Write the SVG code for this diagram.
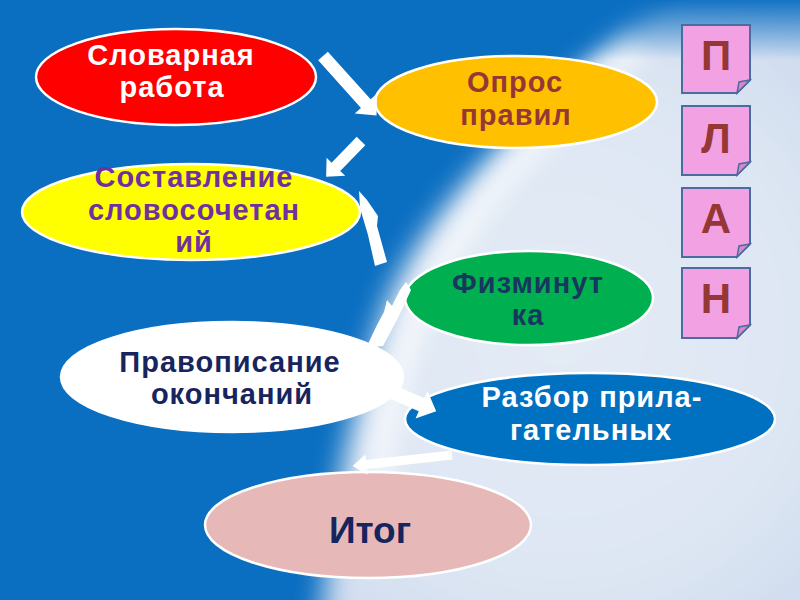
<svg xmlns="http://www.w3.org/2000/svg" width="800" height="600" viewBox="0 0 800 600">
  <defs>
    <radialGradient id="light" gradientUnits="userSpaceOnUse" cx="560" cy="330" r="420">
      <stop offset="0" stop-color="#E4EBF5"/>
      <stop offset="0.6" stop-color="#DDE6F3"/>
      <stop offset="1" stop-color="#C9D8EE"/>
    </radialGradient>
    <linearGradient id="topfade" x1="0" y1="0" x2="0" y2="1">
      <stop offset="0" stop-color="#0A6EC1" stop-opacity="0.95"/>
      <stop offset="1" stop-color="#0A6EC1" stop-opacity="0"/>
    </linearGradient>
    <filter id="soft" x="-0.2" y="-0.2" width="1.4" height="1.4">
      <feGaussianBlur stdDeviation="14"/>
    </filter>
    <filter id="soft2" x="-0.2" y="-0.2" width="1.4" height="1.4">
      <feGaussianBlur stdDeviation="10"/>
    </filter>
    <style>
      .node { stroke: #FFFFFF; stroke-width: 2.5; }
      .t { font-family: "Liberation Sans", Arial, sans-serif; font-weight: bold; font-size: 29px; text-anchor: middle; letter-spacing: 1px; }
      .arrow { fill: #FFFFFF; }
      .card { fill: #F2A2E2; stroke: #4B6C9E; stroke-width: 2; }
      .fold { fill: #D888C8; stroke: #4B6C9E; stroke-width: 1.5; }
      .letter { font-family: "Liberation Sans", Arial, sans-serif; font-weight: bold; font-size: 42px; fill: #953735; text-anchor: middle; }
    </style>
  </defs>

  <!-- background -->
  <rect x="0" y="0" width="800" height="600" fill="#0A6EC1"/>
  <path d="M690,-30 C560,90 420,200 380,320 C350,420 330,500 320,640 L840,640 L840,-30 Z" fill="url(#light)" filter="url(#soft)"/>
  <path d="M640,40 C540,130 450,220 415,320 C395,380 380,440 372,520" fill="none" stroke="#FFFFFF" stroke-opacity="0.55" stroke-width="30" filter="url(#soft2)"/>
  <rect x="560" y="0" width="240" height="60" fill="url(#topfade)"/>

  <!-- nodes -->
  <g id="node-slovarnaya">
    <ellipse class="node" cx="176" cy="77" rx="140" ry="48" fill="#FF0000"/>
    <text class="t" x="171" y="65" fill="#FFFFFF">Словарная</text>
    <text class="t" x="172" y="97" fill="#FFFFFF">работа</text>
  </g>
  <g id="node-opros">
    <ellipse class="node" cx="516" cy="102" rx="141" ry="46" fill="#FFC000"/>
    <text class="t" x="515" y="92" fill="#953735">Опрос</text>
    <text class="t" x="516" y="125" fill="#953735">правил</text>
  </g>
  <g id="node-sostavlenie">
    <ellipse class="node" cx="191" cy="212" rx="169" ry="48" fill="#FFFF00"/>
    <text class="t" x="194" y="187" fill="#7030A0">Составление</text>
    <text class="t" x="194" y="220" fill="#7030A0">словосочетан</text>
    <text class="t" x="194" y="252" fill="#7030A0">ий</text>
  </g>
  <g id="node-fizminutka">
    <ellipse class="node" cx="529" cy="298" rx="124" ry="47" fill="#00B050"/>
    <text class="t" x="528" y="293" fill="#17375E">Физминут</text>
    <text class="t" x="528" y="325" fill="#17375E">ка</text>
  </g>
  <g id="node-pravopisanie">
    <ellipse class="node" cx="232" cy="377" rx="171" ry="55" fill="#FFFFFF"/>
    <text class="t" x="230" y="372" fill="#17255E">Правописание</text>
    <text class="t" x="232" y="404" fill="#17255E">окончаний</text>
  </g>
  <g id="node-razbor">
    <ellipse class="node" cx="590" cy="419" rx="185" ry="46" fill="#0070C0"/>
    <text class="t" x="592" y="407" fill="#FFFFFF">Разбор прила-</text>
    <text class="t" x="591" y="440" fill="#FFFFFF">гательных</text>
  </g>
  <g id="node-itog">
    <ellipse class="node" cx="368" cy="525" rx="163" ry="53" fill="#E6B9B8"/>
    <text class="t" x="370" y="543" fill="#17255E" style="font-size:37px;letter-spacing:0">Итог</text>
  </g>

  <!-- connectors -->
  <g id="connectors">
    <polygon class="arrow" transform="translate(323,56) rotate(48)" points="0,-6.5 64,-6.5 64,-15 80,0 64,15 64,6.5 0,6.5"/>
    <polygon class="arrow" transform="translate(361,141) rotate(134.2)" points="0,-6 36,-6 36,-13 50,0 36,13 36,6 0,6"/>
    <polygon class="arrow" points="359,191 367,200 378,216 377,226 387,262 375,266 368,235 360,208"/>
    <polygon class="arrow" points="406,282 411,290 398,318 383,346 366,348 377,325 384,312 387,300 392,306 400,290"/>
    <polygon class="arrow" transform="translate(383,388) rotate(23.5)" points="0,-7 42,-7 42,-15 58,0 42,15 42,7 0,7"/>
    <polygon class="arrow" transform="translate(452,455) rotate(173.7)" points="0,-4.5 86,-4.5 86,-10 100,0 86,10 86,4.5 0,4.5"/>
  </g>

  <!-- ПЛАН cards -->
  <g id="card-p">
    <path class="card" d="M682,25 H750 V80 L737,93 H682 Z"/>
    <path class="fold" d="M750,80 L737,93 L739,82 Z"/>
    <text class="letter" x="716" y="70">П</text>
  </g>
  <g id="card-l">
    <path class="card" d="M682,106 H750 V162 L737,175 H682 Z"/>
    <path class="fold" d="M750,162 L737,175 L739,164 Z"/>
    <text class="letter" x="716" y="153">Л</text>
  </g>
  <g id="card-a">
    <path class="card" d="M682,188 H750 V244 L737,257 H682 Z"/>
    <path class="fold" d="M750,244 L737,257 L739,246 Z"/>
    <text class="letter" x="716" y="233">А</text>
  </g>
  <g id="card-n">
    <path class="card" d="M682,268 H750 V325 L737,338 H682 Z"/>
    <path class="fold" d="M750,325 L737,338 L739,327 Z"/>
    <text class="letter" x="716" y="313">Н</text>
  </g>
</svg>
